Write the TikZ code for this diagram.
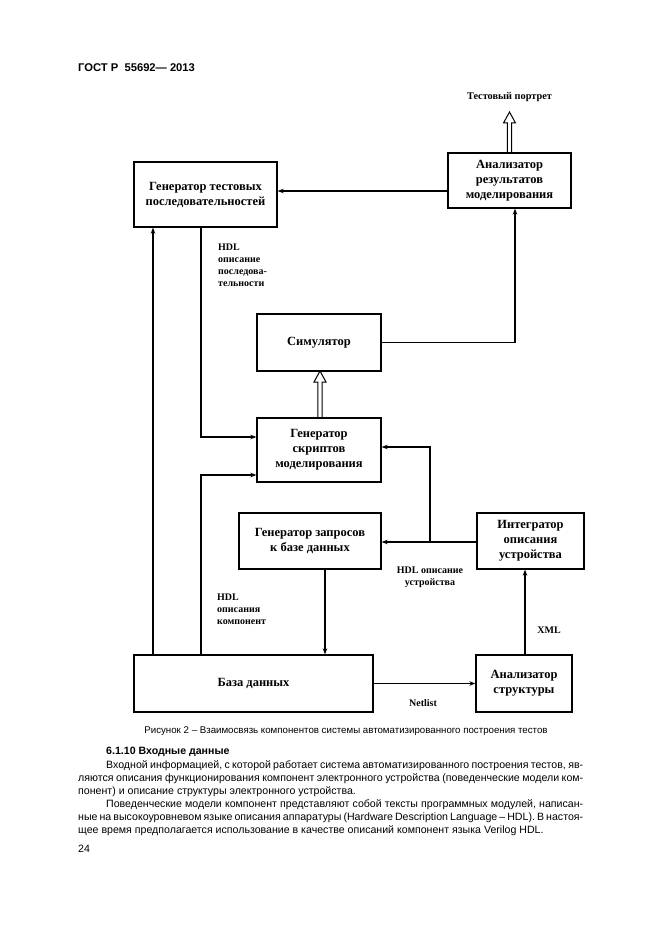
\documentclass[tikz,border=0pt]{standalone}
\usepackage{fontspec}
\setmainfont{Liberation Serif}
\newfontfamily\sansf{Liberation Sans}
\usetikzlibrary{arrows.meta,calc}
\begin{document}
\begin{tikzpicture}[x=1pt,y=-1pt,
  box/.style={draw,line width=1.3pt,rectangle,inner sep=2pt,align=center,font=\fontsize{12.5}{15}\selectfont\bfseries},
  lab/.style={inner sep=0pt,align=left,font=\fontsize{10}{12}\selectfont\bfseries},
  conn/.style={line width=1.2pt},
  arr/.style={line width=1.2pt,-{Stealth[length=6pt,width=4.5pt]}},
  hollow/.style={line width=1pt},
  body/.style={inner sep=0pt,anchor=base west,font=\sansf\fontsize{10.6}{13}\selectfont}]
\useasboundingbox (0,0) rectangle (661,936);
\fill[white] (0,0) rectangle (661,936);
% header
\node[inner sep=0pt,anchor=base west,font=\sansf\bfseries\fontsize{11.2}{13}\selectfont] (hdr) at (78,72) {ГОСТ Р\ \ 55692— 2013};
% boxes
\node[box,minimum width=143pt,minimum height=65pt] (gts) at (205.5,194.5) {Генератор тестовых\\последовательностей};
\node[box,minimum width=123pt,minimum height=55pt] (ana) at (509.5,180.5) {Анализатор\\результатов\\моделирования};
\node[box,minimum width=124pt,minimum height=57pt] (sim) at (319,342.5) {Симулятор};
\node[box,minimum width=124pt,minimum height=64pt] (gss) at (319,450) {Генератор\\скриптов\\моделирования};
\node[box,minimum width=142pt,minimum height=56pt] (gq) at (310,541) {Генератор запросов\\к базе данных};
\node[box,minimum width=107pt,minimum height=56pt] (integ) at (530.5,541) {Интегратор\\описания\\устройства};
\node[box,minimum width=239pt,minimum height=57pt] (db) at (253.5,683.5) {База данных};
\node[box,minimum width=96pt,minimum height=57pt] (sa) at (524,683.5) {Анализатор\\структуры};
% output label
\node[lab,font=\fontsize{10.3}{12}\selectfont\bfseries] (tp) at (509.5,97) {Тестовый портрет};
\coordinate (tpt) at (509.5,112);
% labels
\node[lab,anchor=north west] (l1) at (218,244) {HDL\\описание\\последова-\\тельности};
\node[lab,anchor=north,align=center] (l2) at (430,567) {HDL описание\\устройства};
\node[lab,anchor=north west] (l3) at (217,594) {HDL\\описания\\компонент};
\node[lab] (l4) at (549,630) {XML};
\node[lab] (l5) at (423,703) {Netlist};
% junction coordinates
\coordinate (j1) at (430,542);
% connectors
\draw[arr] (ana.west |- 0,191) -- (gts.east |- 0,191);
\draw[arr] (sim.east) -- (sim.east -| 515,0) -- (ana.south -| 515,0);
\draw[arr] (gts.south -| 201,0) |- (gss.west |- 0,437);
\draw[arr] (db.north -| 153,0) -- (gts.south -| 153,0);
\draw[arr] (db.north -| 201,0) |- (gss.west |- 0,475);
\draw[arr] (integ.west |- j1) -- (gq.east |- j1);
\draw[arr] (j1) |- (gss.east |- 0,447);
\draw[arr] (gq.south -| 325,0) -- (db.north -| 325,0);
\draw[arr] (db.east) -- (sa.west);
\draw[arr] (sa.north -| 525,0) -- (integ.south -| 525,0);
% hollow arrows
\draw[hollow] ($(ana.north)+(-2.2,0)$) -- ($(tpt)+(-2.2,11)$) -- ($(tpt)+(-6,11)$) -- (tpt) -- ($(tpt)+(6,11)$) -- ($(tpt)+(2.2,11)$) -- ($(ana.north)+(2.2,0)$);
\coordinate (spt) at (320,371);
\draw[hollow] ($(gss.north -| spt)+(-2.2,0)$) -- ($(spt)+(-2.2,11)$) -- ($(spt)+(-6,11)$) -- (spt) -- ($(spt)+(6,11)$) -- ($(spt)+(2.2,11)$) -- ($(gss.north -| spt)+(2.2,0)$);
% caption
\node[inner sep=0pt,font=\sansf\fontsize{9.7}{11}\selectfont] (cap) at (346,731) {Рисунок 2 – Взаимосвязь компонентов системы автоматизированного построения тестов};
% body text
\node[body,font=\sansf\bfseries\fontsize{10.6}{13}\selectfont] (t0) at (106,754) {6.1.10 Входные данные};
\node[body] (t1) at (106,768) {\makebox[477pt][s]{Входной информацией, с которой работает система автоматизированного построения тестов, яв-}};
\node[body] (t2) at (78,781) {\makebox[505pt][s]{ляются описания функционирования компонент электронного устройства (поведенческие модели ком-}};
\node[body] (t3) at (78,794) {понент) и описание структуры электронного устройства.};
\node[body] (t4) at (106,807) {\makebox[477pt][s]{Поведенческие модели компонент представляют собой тексты программных модулей, написан-}};
\node[body] (t5) at (78,820) {\makebox[505pt][s]{ные на высокоуровневом языке описания аппаратуры (Hardware Description Language – HDL). В настоя-}};
\node[body] (t6) at (78,833) {щее время предполагается использование в качестве описаний компонент языка Verilog HDL.};
\node[body] (pg) at (78,852) {24};
\end{tikzpicture}
\end{document}
